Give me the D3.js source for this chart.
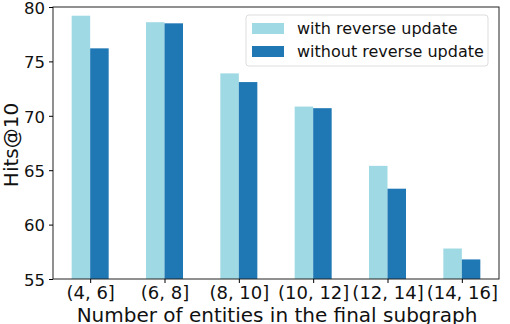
<!DOCTYPE html>
<html>
<head>
<meta charset="utf-8">
<script src="https://cdn.jsdelivr.net/npm/d3@7"></script>
<style>
  body { margin: 0; background: #fff; }
  svg text { font-family: "DejaVu Sans", sans-serif; fill: #111; }
</style>
</head>
<body>
<div id="chart"></div>
<script>
const categories = ['(4, 6]', '(6, 8]', '(8, 10]', '(10, 12]', '(12, 14]', '(14, 16]'];
const withReverse = [79.2, 78.6, 73.9, 70.85, 65.4, 57.8];
const withoutReverse = [76.2, 78.5, 73.1, 70.7, 63.3, 56.8];
const yTicks = [55, 60, 65, 70, 75, 80];
const seriesNames = ['with reverse update', 'without reverse update'];
const colors = ['#9fd9e3', '#1f77b4'];

const width = 510, height = 324;
const margin = { top: 7, right: 11, bottom: 45, left: 53 };

const svg = d3.select('#chart').append('svg')
    .attr('width', width)
    .attr('height', height);

const x = d3.scalePoint()
    .domain(categories)
    .range([margin.left, width - margin.right])
    .padding(0.5);

const y = d3.scaleLinear()
    .domain([55, 80])
    .range([height - margin.bottom, margin.top]);

const barW = 18.5;
const series = [withReverse, withoutReverse];

series.forEach((vals, si) => {
    svg.selectAll('.bar' + si)
        .data(vals)
        .enter().append('rect')
        .attr('class', 'bar' + si)
        .attr('x', (d, i) => x(categories[i]) + (si === 0 ? -barW : 0))
        .attr('y', d => y(d))
        .attr('width', barW)
        .attr('height', d => y(55) - y(d))
        .style('fill', colors[si]);
});

// frame
svg.append('rect')
    .attr('x', margin.left)
    .attr('y', margin.top)
    .attr('width', width - margin.left - margin.right)
    .attr('height', height - margin.top - margin.bottom)
    .style('fill', 'none')
    .style('stroke', '#222')
    .style('stroke-width', 1);

const xAxis = svg.append('g')
    .attr('transform', `translate(0,${height - margin.bottom})`)
    .call(d3.axisBottom(x).tickSize(4).tickPadding(3));
xAxis.select('.domain').remove();
xAxis.selectAll('text').style('font-size', '18px').style('fill', '#111');

const yAxis = svg.append('g')
    .attr('transform', `translate(${margin.left},0)`)
    .call(d3.axisLeft(y).tickValues(yTicks).tickSize(4).tickPadding(4));
yAxis.select('.domain').remove();
yAxis.selectAll('text').style('font-size', '16.5px').style('fill', '#111').attr('dy', '0.38em');

svg.append('text')
    .attr('x', 277)
    .attr('y', 322)
    .attr('text-anchor', 'middle')
    .style('font-size', '20px')
    .text('Number of entities in the final subgraph');

svg.append('text')
    .attr('transform', `translate(18,145) rotate(-90)`)
    .attr('text-anchor', 'middle')
    .style('font-size', '20px')
    .text('Hits@10');

// legend
const legend = svg.append('g').attr('transform', 'translate(246,15)');
legend.append('rect')
    .attr('width', 242)
    .attr('height', 51)
    .attr('rx', 3)
    .style('fill', '#fff')
    .style('fill-opacity', 0.8)
    .style('stroke', '#ddd');
seriesNames.forEach((name, i) => {
    legend.append('rect')
        .attr('x', 6)
        .attr('y', 8 + i * 23)
        .attr('width', 32)
        .attr('height', 11)
        .style('fill', colors[i]);
    legend.append('text')
        .attr('x', 51)
        .attr('y', 19 + i * 23)
        .style('font-size', '16px')
        .text(name);
});
</script>
</body>
</html>
